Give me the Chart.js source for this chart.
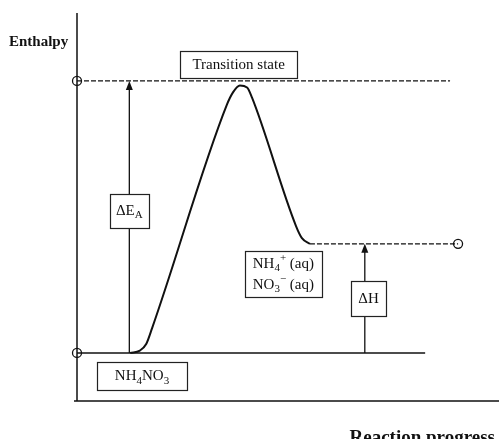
<!DOCTYPE html>
<html>
<head>
<meta charset="utf-8">
<script src="https://cdn.jsdelivr.net/npm/chart.js@4/dist/chart.umd.min.js"></script>
<style>
html,body{margin:0;padding:0;background:#fff;}
canvas{display:block;}
</style>
</head>
<body>
<canvas id="c" width="499" height="439"></canvas>
<script>
// ---- data (reaction progress 0-100, enthalpy 0-100, arbitrary units) ----
const progress = [12.6, 14.9, 16.4, 17.8, 35.5, 37.0, 38.6, 40.3, 41.5, 51.9, 53.3, 55.2];
const enthalpy = [12.4, 13.0, 14.7, 18.8, 76.3, 79.6, 81.3, 80.8, 78.1, 45.1, 42.0, 40.5];
const reactantLevel = 12.4;
const productLevel = 40.5;
const transitionLevel = 82.5;
const reactantLineEnd = 82.5;
const productLineEnd = 90.3;
const transitionLineEnd = 88.4;
const eaArrowX = 12.4;
const dhArrowX = 68.2;
const axisTitles = ["Enthalpy", "Reaction progress"];

// ---- labels (rich text segments) ----
const boxes = [
  {x: 38.3, y: 86.7, w: 117, h: 27, lines: [[{t: "Transition state"}]]},
  {x: 12.4, y: 49.0, w: 39, h: 34, lines: [[{t: "ΔE"}, {t: "A", sub: true}]]},
  {x: 15.4, y: 6.4, w: 90, h: 28, lines: [[{t: "NH"}, {t: "4", sub: true}, {t: "NO"}, {t: "3", sub: true}]]},
  {x: 48.9, y: 32.7, w: 77, h: 46, lines: [
    [{t: "NH"}, {t: "4", sub: true}, {t: "+", sup: true}, {t: " (aq)"}],
    [{t: "NO"}, {t: "3", sub: true}, {t: "−", sup: true}, {t: " (aq)"}]
  ]},
  {x: 69.1, y: 26.4, w: 35, h: 35, lines: [[{t: "ΔH"}]]}
];

const FONT = '"Liberation Serif", "DejaVu Serif", serif';

function segWidth(ctx, seg, size) {
  const s = (seg.sub || seg.sup) ? Math.round(size * 0.7) : size;
  ctx.font = s + 'px ' + FONT;
  return ctx.measureText(seg.t).width;
}
function drawRich(ctx, segs, cx, cy, size) {
  let total = 0;
  segs.forEach(s => total += segWidth(ctx, s, size));
  let x = cx - total / 2;
  ctx.textBaseline = 'middle';
  ctx.textAlign = 'left';
  segs.forEach(s => {
    const w = segWidth(ctx, s, size);
    let dy = 0;
    if (s.sub) dy = size * 0.3;
    if (s.sup) dy = -size * 0.35;
    ctx.fillText(s.t, x, cy + dy);
    x += w;
  });
}

const decor = {
  id: 'decor',
  afterDatasetsDraw(chart) {
    const ctx = chart.ctx;
    const xs = chart.scales.x, ys = chart.scales.y;
    const a = chart.chartArea;
    ctx.save();
    // axes
    ctx.strokeStyle = '#111';
    ctx.lineWidth = 1.5;
    ctx.beginPath();
    ctx.moveTo(a.left, a.top);
    ctx.lineTo(a.left, a.bottom);
    ctx.moveTo(a.left - 3, a.bottom);
    ctx.lineTo(a.right, a.bottom);
    ctx.stroke();
    // arrowheads
    ctx.fillStyle = '#111';
    [[eaArrowX, transitionLevel], [dhArrowX, productLevel]].forEach(p => {
      const px = xs.getPixelForValue(p[0]), py = ys.getPixelForValue(p[1]);
      ctx.beginPath();
      ctx.moveTo(px, py);
      ctx.lineTo(px - 3.5, py + 9);
      ctx.lineTo(px + 3.5, py + 9);
      ctx.closePath();
      ctx.fill();
    });
    // boxes
    boxes.forEach(b => {
      const cx = xs.getPixelForValue(b.x), cy = ys.getPixelForValue(b.y);
      const x0 = Math.round(cx - b.w / 2) + 0.5, y0 = Math.round(cy - b.h / 2) + 0.5;
      ctx.fillStyle = '#fff';
      ctx.fillRect(x0, y0, b.w, b.h);
      ctx.strokeStyle = '#222';
      ctx.lineWidth = 1.2;
      ctx.strokeRect(x0, y0, b.w, b.h);
      ctx.fillStyle = '#111';
      const n = b.lines.length;
      const lh = 21;
      b.lines.forEach((ln, i) => {
        drawRich(ctx, ln, cx, cy + (i - (n - 1) / 2) * lh, 15);
      });
    });
    // axis titles
    ctx.fillStyle = '#111';
    ctx.font = 'bold 15px ' + FONT;
    ctx.textAlign = 'left';
    ctx.textBaseline = 'middle';
    ctx.fillText(axisTitles[0], 9, 42);
    ctx.font = 'bold 19px ' + FONT;
    ctx.textAlign = 'right';
    ctx.textBaseline = 'alphabetic';
    ctx.fillText(axisTitles[1], 495, 443);
    ctx.restore();
  }
};

const seg = (x1, y1, x2, y2) => [{x: x1, y: y1}, {x: x2, y: y2}];
const lineStyle = (dash, w) => ({borderColor: '#111', borderWidth: w, borderDash: dash, pointRadius: 0, fill: false, clip: false, tension: 0});

new Chart(document.getElementById('c'), {
  type: 'line',
  data: {
    datasets: [
      Object.assign({label: 'curve', data: progress.map((p, i) => ({x: p, y: enthalpy[i]}))}, lineStyle([], 2), {cubicInterpolationMode: 'monotone'}),
      Object.assign({label: 'transition', data: seg(0, transitionLevel, transitionLineEnd, transitionLevel)}, lineStyle([5, 2], 1.3)),
      Object.assign({label: 'reactant', data: seg(0, reactantLevel, reactantLineEnd, reactantLevel)}, lineStyle([], 1.5)),
      Object.assign({label: 'product', data: seg(progress[progress.length - 1], productLevel, productLineEnd, productLevel)}, lineStyle([5, 2], 1.3)),
      Object.assign({label: 'ea', data: seg(eaArrowX, reactantLevel, eaArrowX, transitionLevel - 1)}, lineStyle([], 1.3)),
      Object.assign({label: 'dh', data: seg(dhArrowX, reactantLevel, dhArrowX, productLevel - 1)}, lineStyle([], 1.3)),
      {label: 'ends', type: 'scatter', data: [{x: 0, y: transitionLevel}, {x: 0, y: reactantLevel}, {x: productLineEnd, y: productLevel}],
       pointRadius: 4.5, pointBackgroundColor: '#fff', pointBorderColor: '#111', pointBorderWidth: 1.3, clip: false, showLine: false}
    ]
  },
  options: {
    responsive: false,
    animation: false,
    layout: {autoPadding: false, padding: {left: 77, top: 13, right: 0, bottom: 38}},
    plugins: {legend: {display: false}, tooltip: {enabled: false}},
    scales: {
      x: {type: 'linear', min: 0, max: 100, display: false},
      y: {type: 'linear', min: 0, max: 100, display: false}
    }
  },
  plugins: [decor]
});
</script>
</body>
</html>
